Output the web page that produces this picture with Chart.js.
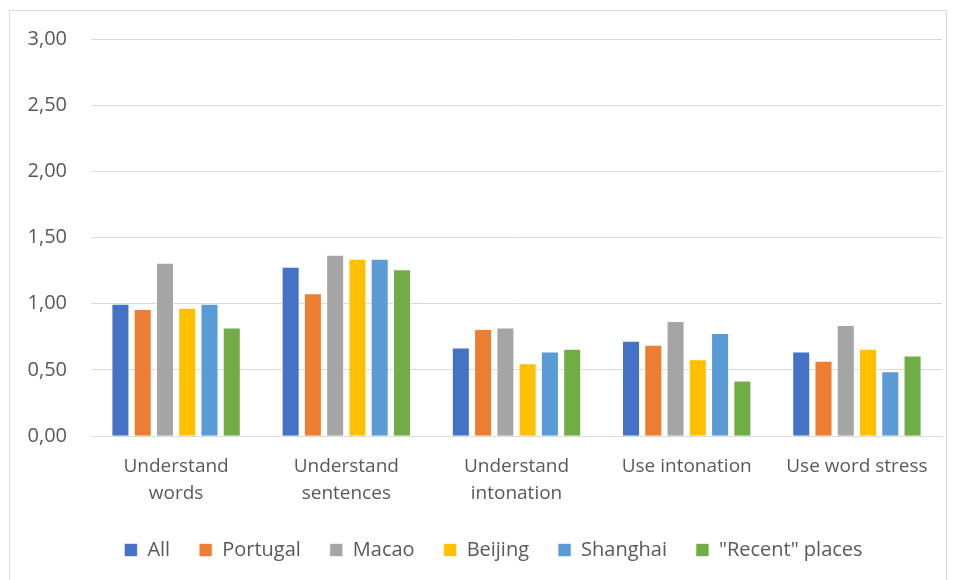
<!DOCTYPE html>
<html><head><meta charset="utf-8">
<script src="https://cdn.jsdelivr.net/npm/chart.js@4.4.1/dist/chart.umd.min.js"></script>
<style>
html,body{margin:0;padding:0;background:#fff;}
#wrap{position:absolute;left:9px;top:10px;width:938px;height:580px;border:1px solid #d9d9d9;box-sizing:border-box;}
canvas{display:block;}
</style></head><body>
<div id="wrap"><canvas id="c"></canvas></div>
<script>
const categories = [["Understand","words"],["Understand","sentences"],["Understand","intonation"],"Use intonation","Use word stress"];
const seriesNames = ["All","Portugal","Macao","Beijing","Shanghai","\"Recent\" places"];
const allVals      = [1.00, 1.28, 0.67, 0.72, 0.64];
const portugalVals = [0.96, 1.08, 0.81, 0.69, 0.57];
const macaoVals    = [1.31, 1.37, 0.82, 0.87, 0.84];
const beijingVals  = [0.97, 1.34, 0.55, 0.58, 0.66];
const shanghaiVals = [1.00, 1.34, 0.64, 0.78, 0.49];
const recentVals   = [0.82, 1.26, 0.66, 0.42, 0.61];
const yTickValues  = [0, 0.5, 1, 1.5, 2, 2.5, 3];

const colors = ["#4472c4","#ed7d31","#a5a5a5","#ffc000","#5b9bd5","#70ad47"];
const values = [allVals, portugalVals, macaoVals, beijingVals, shanghaiVals, recentVals];
const FONT = "'Open Sans', 'Liberation Sans', sans-serif";

const legendShift = {
  id: 'legendShift',
  afterLayout(chart) {
    if (chart.legend) { chart.legend.left += 9; chart.legend.right += 9; }
  }
};

new Chart(document.getElementById('c'), {
  type: 'bar',
  data: {
    labels: categories,
    datasets: seriesNames.map((n, i) => ({
      label: n,
      data: values[i],
      backgroundColor: colors[i],
      borderColor: 'rgba(255,255,255,0.6)',
      borderWidth: 1,
      categoryPercentage: 0.785,
      barPercentage: 0.81
    }))
  },
  plugins: [legendShift],
  options: {
    responsive: true,
    maintainAspectRatio: false,
    animation: false,
    layout: { padding: { left: 17, right: 4, top: 28, bottom: 19 } },
    plugins: {
      legend: {
        position: 'bottom',
        labels: {
          boxWidth: 13, boxHeight: 13, padding: 29,
          color: '#595959',
          font: { family: FONT, size: 20 }
        }
      },
      tooltip: { enabled: false }
    },
    scales: {
      x: {
        grid: { display: false, drawTicks: false },
        border: { color: '#d9d9d9' },
        ticks: { color: '#595959', font: { family: FONT, size: 19, lineHeight: 1.47 }, padding: 16, maxRotation: 0 },
        afterFit: (axis) => { axis.height -= 13; axis.paddingLeft = 0; axis.paddingRight = 0; }
      },
      y: {
        min: 0, max: 3,
        afterBuildTicks: (axis) => { axis.ticks = yTickValues.map(v => ({ value: v })); },
        grid: { color: '#d9d9d9', drawTicks: false },
        border: { display: false },
        ticks: {
          color: '#595959', font: { family: FONT, size: 20 }, padding: 24,
          callback: (v) => Number(v).toFixed(2).replace('.', ',')
        },
        afterFit: (axis) => { axis.width = 64; axis.paddingTop = 0; axis.paddingBottom = 0; }
      }
    }
  }
});
</script>
</body></html>
